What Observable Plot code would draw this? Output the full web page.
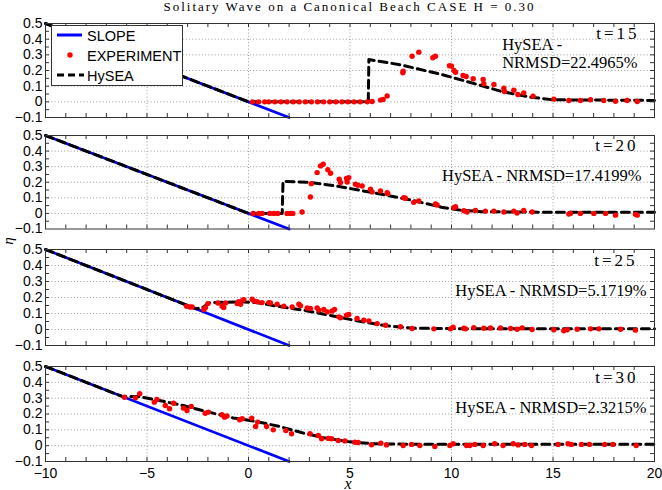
<!DOCTYPE html>
<html><head><meta charset="utf-8">
<script src="https://cdn.jsdelivr.net/npm/d3@7"></script>
<script src="https://cdn.jsdelivr.net/npm/@observablehq/plot@0.6"></script>
<style>
html,body{margin:0;padding:0;background:#fff;}
#chart{position:relative;width:662px;height:490px;overflow:hidden;background:#fff;}
#chart svg{position:absolute;left:0;}
</style></head><body><div id="chart"></div>
<script>
// ---------- data ----------
const title = "Solitary Wave on a Canonical Beach CASE H = 0.30";
const seriesNames = ["SLOPE", "EXPERIMENT", "HySEA"];
const timeLabels = ["t=15", "t=20", "t=25", "t=30"];
const notes = ["HySEA -\nNRMSD=22.4965%", "HySEA - NRMSD=17.4199%", "HySEA - NRMSD=5.1719%", "HySEA - NRMSD=2.3215%"];
const xTicks = [-10, -5, 0, 5, 10, 15, 20];
const yTicks = [-0.1, 0, 0.1, 0.2, 0.3, 0.4, 0.5];
const xGrid = [-5, 0, 5, 10, 15];
const yGrid = [0, 0.1, 0.2, 0.3, 0.4];
const xMinor = [-9,-8,-7,-6,-5,-4,-3,-2,-1,0,1,2,3,4,5,6,7,8,9,10,11,12,13,14,15,16,17,18,19];
const yMinor = [-0.05,0,0.05,0.1,0.15,0.2,0.25,0.3,0.35,0.4,0.45];

const slopeX = [-10, 2];
const slopeY = [0.5, -0.1];

// t = 15
const hx15 = [-10, 0, 5.9, 5.93, 7.5, 9.5, 11.3, 12.5, 13.9, 15.0, 20];
const hy15 = [0.5, 0, 0, 0.27, 0.236, 0.175, 0.11, 0.065, 0.03, 0.013, 0.009];
const ex15 = [0.2,0.5,0.8,1.0,1.3,1.6,1.9,2.2,2.5,2.8,3.1,3.4,3.7,4.0,4.3,4.6,4.9,5.2,5.5,5.85,
  6.09,6.5,6.63,6.83,7.6,7.62,8.06,8.39,9.08,9.21,9.9,10.0,10.12,10.2,
  10.57,10.72,11.07,11.56,11.59,12.09,12.58,12.61,13.07,13.27,13.56,14.02,15.04,15.78,16.35,16.85,17.5,18.08,18.65,19.15];
const ey15 = [0,0,0,0,0,0,0,0,0,0,0,0,0,0,0,0,0,0,0,0,
  0.002,0.011,0.015,0.038,0.185,0.196,0.291,0.317,0.281,0.291,0.23,0.228,0.2,0.189,
  0.168,0.162,0.147,0.143,0.115,0.111,0.087,0.066,0.074,0.047,0.057,0.036,0.017,0.0085,0.0085,0.013,0.0085,0.004,0.0085,0.002];

// t = 20
const hx20 = [-10, 0, 1.66, 1.7, 1.9, 3.1, 4.3, 6.5, 8.2, 9.5, 10.5, 11.5, 14.4, 20];
const hy20 = [0.5, 0, 0, 0.204, 0.205, 0.198, 0.176, 0.125, 0.08, 0.04, 0.02, 0.011, 0.008, 0.008];
const ex20 = [0.23,0.51,0.67,1.05,1.25,1.44,1.90,2.07,2.18,2.64,
  3.05,3.09,3.38,3.55,3.68,3.91,4.04,4.47,4.53,4.83,4.86,4.94,
  5.27,5.39,5.60,6.01,6.09,6.50,6.83,6.86,
  7.65,7.73,8.14,8.39,9.21,9.29,
  10.11,10.20,10.61,10.77,11.18,11.67,12.09,12.58,13.07,13.23,13.56,13.97,
  15.78,15.86,16.35,17.01,17.59,18.08,19.06,19.15];
const ey20 = [0,0,0,0,0,0,0,0,0,0.009,
  0.105,0.191,0.262,0.305,0.316,0.28,0.258,0.219,0.198,0.224,0.202,0.23,
  0.187,0.181,0.176,0.155,0.138,0.144,0.133,0.127,
  0.101,0.097,0.071,0.08,0.06,0.054,
  0.037,0.043,0.017,0.009,0.019,0.015,0.015,0.009,0.015,0.002,0.019,0.009,
  -0.004,0,0,0,0,-0.011,-0.006,-0.011];

// t = 25
const hx25 = [-10, -2.6, -2.3, -1.9, -0.4, 0.4, 1.4, 2.7, 4.0, 5.35, 6.8, 8.1, 10.6, 20];
const hy25 = [0.5, 0.13, 0.135, 0.168, 0.173, 0.168, 0.146, 0.121, 0.089, 0.054, 0.023, 0.008, 0.005, 0.005];
const ex25 = [-3.05,-2.89,-2.78,-2.20,-2.12,-2.00,-1.51,-1.30,-1.22,-1.13,
  -0.56,-0.48,-0.39,-0.28,-0.23,0.18,0.26,0.43,0.67,1.00,1.08,1.41,1.74,
  2.15,2.48,2.56,2.89,3.05,3.38,3.46,3.71,3.88,4.12,4.24,4.45,4.53,4.83,4.94,
  5.35,5.68,5.93,6.34,6.75,7.49,8.06,9.13,9.95,
  10.08,10.61,10.69,11.10,11.59,11.92,12.41,12.91,13.23,13.48,13.97,
  15.04,15.53,15.70,16.19,16.85,17.26,18.33,19.06];
const ey25 = [0.146,0.141,0.141,0.125,0.137,0.162,0.166,0.146,0.137,0.166,
  0.162,0.173,0.158,0.183,0.187,0.189,0.179,0.173,0.168,0.168,0.166,0.158,0.146,
  0.141,0.158,0.148,0.135,0.131,0.135,0.121,0.125,0.11,0.116,0.125,0.079,0.073,0.089,0.094,
  0.069,0.058,0.054,0.037,0.027,0.017,0.006,0.004,0.004,
  0.015,0.008,0.004,0.012,0.008,0.01,0.01,0.006,0.002,0.01,0,
  -0.002,-0.008,-0.002,0.002,0.004,0.004,0.002,-0.004];

// t = 30
const hx30 = [-10, -6.2, -5.4, -4.2, -3.1, -1.9, -0.75, 0.4, 1.5, 2.6, 3.7, 5.0, 6.2, 8.0, 20];
const hy30 = [0.5, 0.31, 0.31, 0.28, 0.25, 0.21, 0.175, 0.152, 0.122, 0.083, 0.05, 0.024, 0.012, 0.009, 0.009];
const ex30 = [-6.11,-5.57,-5.36,-4.64,-4.51,-4.10,-3.89,-3.69,-3.20,-3.03,
  -2.82,-2.13,-1.97,-1.31,-1.18,-1.06,-0.44,-0.31,0.16,0.35,
  0.45,0.89,1.22,1.84,2.12,3.03,3.44,3.60,3.93,
  4.09,4.42,4.75,5.24,5.40,6.06,6.52,6.80,7.62,8.03,
  8.44,9.18,9.92,10.08,10.74,10.9,11.15,11.56,12.13,12.54,
  13.04,13.28,13.61,13.94,15.25,15.74,15.90,16.40,16.80,17.54,
  17.95,19.10];
const ey30 = [0.306,0.302,0.328,0.275,0.292,0.254,0.233,0.268,0.237,0.222,
  0.248,0.205,0.212,0.195,0.18,0.187,0.164,0.17,0.174,0.121,
  0.149,0.121,0.1,0.096,0.075,0.075,0.064,0.044,0.046,
  0.044,0.033,0.03,0.022,0.02,0.006,0.016,0.005,0.001,0.008,
  0.001,-0.005,0.001,0.012,0.001,0.001,0.008,0.001,0.012,0.001,
  0.012,0.005,0.008,0.001,0.008,0.012,0.008,0.008,0.008,0.008,
  0.008,0.001];

// ---------- layout ----------
const W = 662, ML = 45, MR = 8;
const serif = "'Liberation Serif', 'Times New Roman', serif";
const sans = "'Liberation Sans', Arial, sans-serif";
const panels = [
  {hx: hx15, hy: hy15, ex: ex15, ey: ey15, top: 23, h: 94, tdy: 10, tdx: -15,
   note: {frameAnchor: "top-left", dx: 456.7, dy: 29.5, textAnchor: "start"}},
  {hx: hx20, hy: hy20, ex: ex20, ey: ey20, top: 135, h: 93.5, tdy: 10, tdx: -16,
   note: {frameAnchor: "top-right", dx: -13, dy: 40, textAnchor: "end"}},
  {hx: hx25, hy: hy25, ex: ex25, ey: ey25, top: 249, h: 96, tdy: 11, tdx: -17,
   note: {frameAnchor: "top-right", dx: -8, dy: 41, textAnchor: "end"}},
  {hx: hx30, hy: hy30, ex: ex30, ey: ey30, top: 366, h: 95, tdy: 10.7, tdx: -16,
   note: {frameAnchor: "top-right", dx: -8, dy: 40.7, textAnchor: "end"}}
];

const chart = document.getElementById("chart");
const frameColor = "#333";
const yFmt = d => Math.abs(d) < 1e-9 ? "0" : d3.format(".1f")(d);
const xFmt = d3.format("d");

panels.forEach((p, i) => {
  const mT = 12, mB = i === 3 ? 26 : 12;
  const plotW = W - ML - MR;
  const slope = slopeX.map((x, k) => ({x, y: slopeY[k]}));
  const hysea = p.hx.map((x, k) => ({x, y: p.hy[k]}));
  const exp = p.ex.map((x, k) => ({x, y: p.ey[k]}));
  const marks = [
    Plot.gridX(xGrid, {stroke: "#9a9a9a", strokeOpacity: 1, strokeDasharray: "1,2.2", strokeWidth: 1}),
    Plot.gridY(yGrid, {stroke: "#9a9a9a", strokeOpacity: 1, strokeDasharray: "1,2.2", strokeWidth: 1}),
    Plot.line(slope, {x: "x", y: "y", stroke: "#0000ff", strokeWidth: 2.7}),
    Plot.line(hysea, {x: "x", y: "y", stroke: "#000", strokeWidth: 3, strokeDasharray: "8,5"}),
    Plot.dot(exp, {x: "x", y: "y", r: 2.7, fill: "#ff0000"}),
    Plot.tickX(xMinor, {x: d => d, insetBottom: p.h - 4, stroke: frameColor}),
    Plot.tickX(xMinor, {x: d => d, insetTop: p.h - 4, stroke: frameColor}),
    Plot.tickY(yMinor, {y: d => d, insetRight: plotW - 4, stroke: frameColor}),
    Plot.tickY(yMinor, {y: d => d, insetLeft: plotW - 4, stroke: frameColor}),
    Plot.frame({stroke: frameColor, strokeWidth: 1}),
    Plot.axisY(yTicks, {tickSize: 0, tickPadding: 3, tickFormat: yFmt, label: null, fill: "#000"}),
    Plot.text([timeLabels[i]], {text: d => d, frameAnchor: "top-right", dx: p.tdx, dy: p.tdy,
      lineAnchor: "middle", textAnchor: "end", fontSize: 17, fill: "#000"}),
    Plot.text([notes[i]], {text: d => d, ...p.note, lineAnchor: "middle", lineHeight: 1.12,
      fontSize: 16.5, fill: "#000"})
  ];
  if (i === 3) {
    marks.push(Plot.axisX(xTicks, {tickSize: 0, tickPadding: 7, tickFormat: xFmt, label: null, fill: "#000"}));
  }
  const svg = Plot.plot({
    width: W, height: p.h + mT + mB,
    marginTop: mT, marginBottom: mB, marginLeft: ML, marginRight: MR,
    x: {domain: [-10, 20], axis: null},
    y: {domain: [-0.1, 0.5], axis: null},
    style: {background: "transparent", fontFamily: sans, fontSize: "14px", color: "#000", overflow: "visible"},
    marks
  });
  svg.style.top = (p.top - mT) + "px";
  // serif face for the in-panel annotations (text marks, not axis labels)
  const annot = d3.select(svg).selectAll("text").filter(function() {
    const c = this.textContent;
    return c.startsWith("t=") || c.startsWith("HySEA");
  });
  annot.style("font-family", serif).attr("font-family", serif);
  annot.filter(function() { return this.textContent.startsWith("t="); }).style("letter-spacing", "3px");
  chart.appendChild(svg);
});

// ---------- overlay: title, axis labels, legend ----------
const ov = d3.select(chart).append("svg")
  .attr("width", W).attr("height", 490)
  .style("top", "0px").style("pointer-events", "none");

ov.append("text").attr("x", 349.5).attr("y", 10.8).attr("text-anchor", "middle")
  .style("font-family", serif).style("font-size", "13px").style("letter-spacing", "2px")
  .text(title);

ov.append("text").attr("transform", "translate(13,241) rotate(-90)").attr("text-anchor", "middle")
  .style("font-family", serif).style("font-style", "italic").style("font-size", "15px")
  .text("η");

ov.append("text").attr("x", 348).attr("y", 488.5).attr("text-anchor", "middle")
  .style("font-family", serif).style("font-style", "italic").style("font-size", "16px")
  .text("x");

const lg = ov.append("g");
lg.append("rect").attr("x", 51.5).attr("y", 25.5).attr("width", 131).attr("height", 60)
  .attr("fill", "#fff").attr("stroke", frameColor).attr("stroke-width", 1);
const rows = [35, 55, 75];
lg.append("line").attr("x1", 57).attr("x2", 82).attr("y1", rows[0]).attr("y2", rows[0])
  .attr("stroke", "#0000ff").attr("stroke-width", 3);
lg.append("circle").attr("cx", 70).attr("cy", rows[1]).attr("r", 2.7).attr("fill", "#ff0000");
lg.append("line").attr("x1", 57).attr("x2", 84).attr("y1", rows[2]).attr("y2", rows[2])
  .attr("stroke", "#000").attr("stroke-width", 3).attr("stroke-dasharray", "7,4");
seriesNames.forEach((s, k) => {
  lg.append("text").attr("x", 87).attr("y", rows[k] + 5.5)
    .style("font-family", sans).style("font-size", "14.5px").attr("fill", "#000")
    .text(s);
});
</script>
</body></html>
